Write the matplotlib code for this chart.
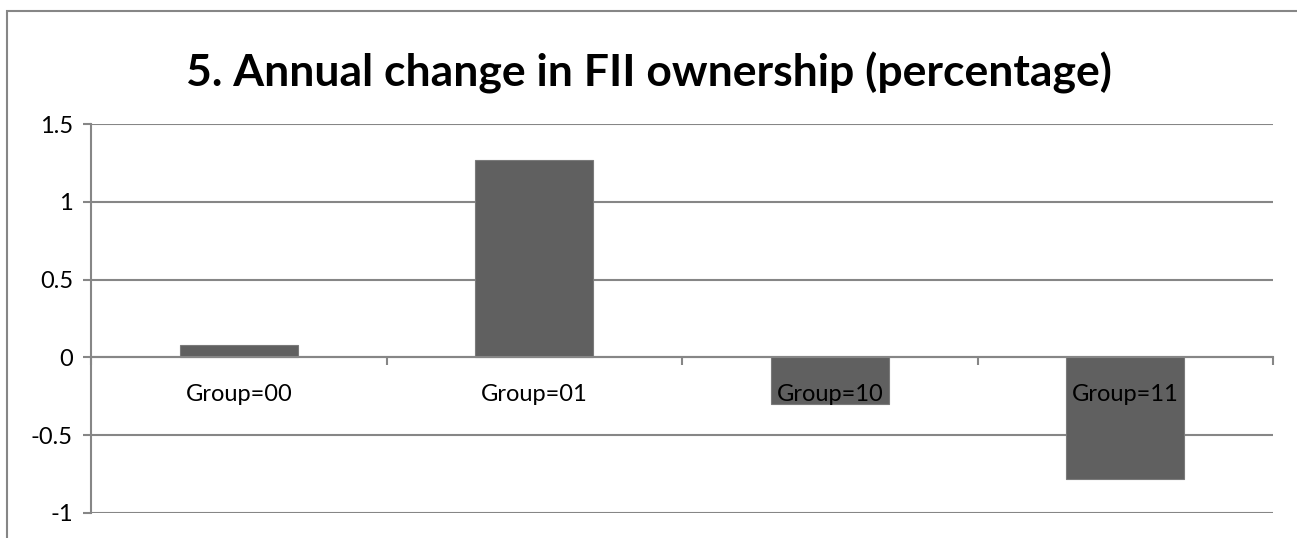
import matplotlib.pyplot as plt
from matplotlib.patches import Rectangle

# data
groups = ["Group=00", "Group=01", "Group=10", "Group=11"]
change = [0.08, 1.27, -0.30, -0.78]
yticks = [-1, -0.5, 0, 0.5, 1, 1.5]
ytick_labels = ["-1", "-0.5", "0", "0.5", "1", "1.5"]

grey = "#868686"
plt.rcParams['font.family'] = ['Lato', 'DejaVu Sans']

fig = plt.figure(figsize=(12.97, 5.38), dpi=100)
ax = fig.add_axes([0.0702, 0.0465, 0.9113, 0.723])

# outer chart frame (cut off at right and bottom in the reference)
fig.patches.append(Rectangle((7 / 1297, -0.5), 2.0, 1 - 11 / 538 + 0.5,
                             transform=fig.transFigure, fill=False,
                             edgecolor=grey, linewidth=1.5))

# gridlines behind the bars, tick labels in front of them
for yv in yticks:
    ax.axhline(yv, color=grey, linewidth=1.5, zorder=0)

x = list(range(len(groups)))
ax.bar(x, change, width=0.4, color="#606060", edgecolor="#7a7a7a",
       linewidth=0.8, zorder=1)

ax.set_xlim(-0.5, len(groups) - 0.5)
ax.set_ylim(-1, 1.5)
ax.set_yticks(yticks)
ax.set_yticklabels(ytick_labels)

for s in ["top", "right"]:
    ax.spines[s].set_visible(False)
ax.spines["left"].set_color(grey)
ax.spines["left"].set_linewidth(1.5)
ax.spines["bottom"].set_position(("data", 0))
ax.spines["bottom"].set_color(grey)
ax.spines["bottom"].set_linewidth(1.5)

ax.set_xticks([i - 0.5 for i in range(len(groups) + 1)])
ax.set_xticklabels([])
ax.set_xticks(x, minor=True)
ax.set_xticklabels(groups, minor=True)
ax.tick_params(axis="x", which="major", length=6, width=1.5, color=grey)
ax.tick_params(axis="x", which="minor", length=0, pad=19, labelsize=17)
ax.tick_params(axis="y", length=6, width=1.5, color=grey, labelsize=17, pad=7)

fig.text(0.5, 0.865, "5. Annual change in FII ownership (percentage)",
         ha="center", va="center", fontsize=32, fontweight="bold")

fig.savefig("out.png", dpi=100, facecolor="white")
